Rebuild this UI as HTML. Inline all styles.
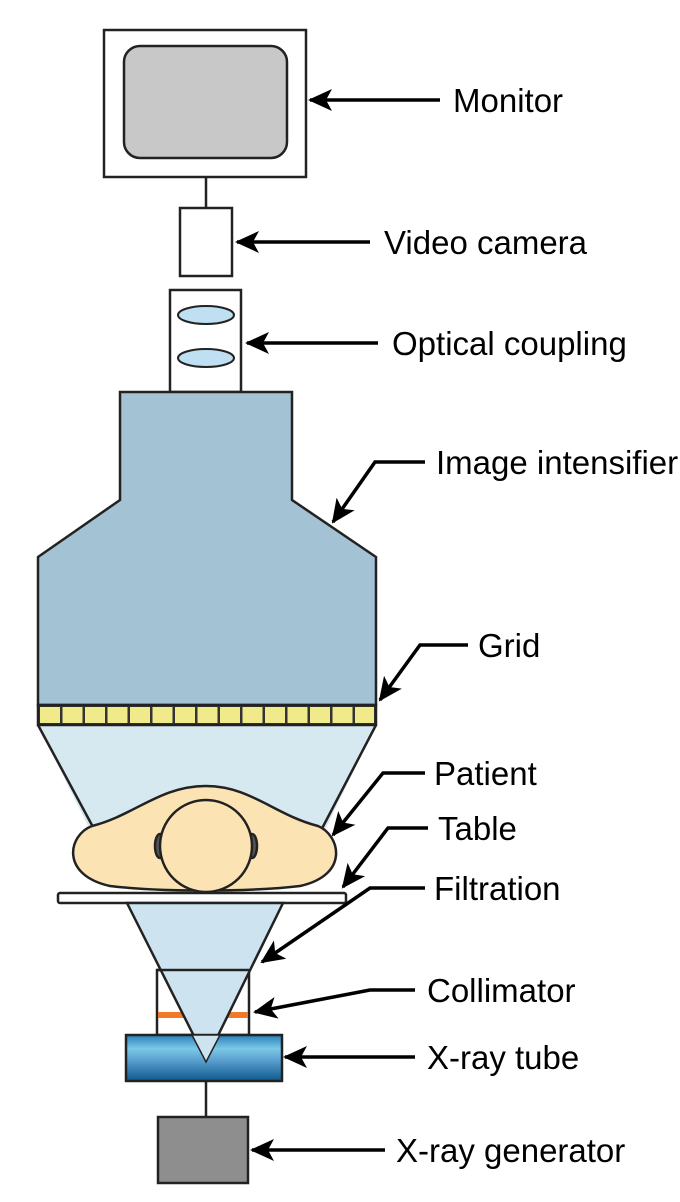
<!DOCTYPE html>
<html><head><style>html,body{margin:0;padding:0;background:#fff}svg{display:block}text{font-family:"Liberation Sans",sans-serif;font-size:33px;fill:#000}</style></head>
<body>
<svg width="680" height="1202" viewBox="0 0 680 1202" xmlns="http://www.w3.org/2000/svg">
<defs>
<marker id="ah" markerWidth="24" markerHeight="22" refX="22" refY="11" orient="auto" markerUnits="userSpaceOnUse" viewBox="0 0 24 22"><path d="M24,11 L0,0 L6,11 L0,22 Z" fill="#000"/></marker>
<linearGradient id="tube" x1="0" y1="0" x2="0" y2="1"><stop offset="0" stop-color="#2a7fb8"/><stop offset="0.3" stop-color="#7cc8e8"/><stop offset="0.55" stop-color="#5a9fd0"/><stop offset="1" stop-color="#0d5a8a"/></linearGradient>
</defs>
<g stroke="#222" stroke-width="2.5">
<rect x="104" y="30" width="202" height="147" fill="#fff"/>
<rect x="124" y="46" width="163" height="112" rx="16" fill="#c8c8c8"/>
<line x1="206" y1="177" x2="206" y2="208"/>
<rect x="180" y="208" width="52" height="68" fill="#fff"/>
<rect x="170" y="290" width="71" height="102" fill="#fff"/>
<ellipse cx="206" cy="315" rx="28" ry="9" fill="#bfe0f2" stroke-width="2"/>
<ellipse cx="206" cy="358" rx="28" ry="9" fill="#bfe0f2" stroke-width="2"/>
<polygon points="120,392 292,392 292,500 376,557 376,705 38,705 38,557 120,500" fill="#a3c3d5"/>
<polygon points="38,725 376,725 320,840 95,840" fill="#d6e9f1" stroke="none"/>
<line x1="38" y1="725" x2="100" y2="840"/>
<line x1="376" y1="725" x2="316" y2="840"/>
<rect x="38" y="705" width="338" height="20" fill="#333"/>
</g>
<g fill="#f1ea8a">
<rect x="40" y="707" width="20" height="16"/><rect x="62.5" y="707" width="20" height="16"/><rect x="85" y="707" width="20" height="16"/><rect x="107.5" y="707" width="20" height="16"/><rect x="130" y="707" width="20" height="16"/><rect x="152.5" y="707" width="20" height="16"/><rect x="175" y="707" width="20" height="16"/><rect x="197.5" y="707" width="20" height="16"/><rect x="220" y="707" width="20" height="16"/><rect x="242.5" y="707" width="20" height="16"/><rect x="265" y="707" width="20" height="16"/><rect x="287.5" y="707" width="20" height="16"/><rect x="310" y="707" width="20" height="16"/><rect x="332.5" y="707" width="20" height="16"/><rect x="355" y="707" width="19" height="16"/>
</g>
<g stroke="#222" stroke-width="2.5">
<path d="M206,786 C250,786 275,815 318,826 C340,835 350,875 300,886 C250,892 160,892 110,886 C60,875 68,835 92,826 C135,815 160,786 206,786 Z" fill="#fbe3b4"/>
<ellipse cx="160" cy="846" rx="5" ry="12" fill="#555"/>
<ellipse cx="252" cy="846" rx="5" ry="12" fill="#555"/>
<circle cx="206" cy="846" r="46" fill="#fbe3b4"/>
<rect x="58" y="893" width="288" height="10" fill="#fff" rx="2"/>
<rect x="157" y="970" width="92" height="65" fill="#fff"/>
<rect x="158" y="1012" width="90" height="6" fill="#f07a2a" stroke="none"/>
<polygon points="127,903 283,903 206,1060" fill="#cde4f0"/>
<line x1="157" y1="970" x2="249" y2="970"/>
<rect x="126" y="1035" width="156" height="46" fill="url(#tube)"/>
<polygon points="192,1035 220,1035 206,1062" fill="#cde4f0" stroke-width="1.5"/>
<line x1="206" y1="1081" x2="206" y2="1117"/>
<rect x="158" y="1117" width="90" height="66" fill="#8e8e8e"/>
</g>
<g stroke="#000" stroke-width="3.5" fill="none" marker-end="url(#ah)">
<polyline points="440,100 310,100"/>
<polyline points="370,242 237,242"/>
<polyline points="378,343 247,343"/>
<polyline points="425,462 375,462 333,522"/>
<polyline points="468,645 420,645 380,700"/>
<polyline points="425,773 383,773 333,835"/>
<polyline points="428,828 388,828 343,887"/>
<polyline points="425,888 370,888 262,962"/>
<polyline points="415,990 370,990 255,1012"/>
<polyline points="415,1057 285,1057"/>
<polyline points="385,1150 252,1150"/>
</g>
<text x="453" y="112">Monitor</text>
<text x="384" y="254">Video camera</text>
<text x="392" y="355">Optical coupling</text>
<text x="436" y="474">Image intensifier</text>
<text x="478" y="657">Grid</text>
<text x="434" y="785">Patient</text>
<text x="438" y="840">Table</text>
<text x="434" y="900">Filtration</text>
<text x="427" y="1002">Collimator</text>
<text x="427" y="1069">X-ray tube</text>
<text x="396" y="1162">X-ray generator</text>
</svg>
</body></html>
